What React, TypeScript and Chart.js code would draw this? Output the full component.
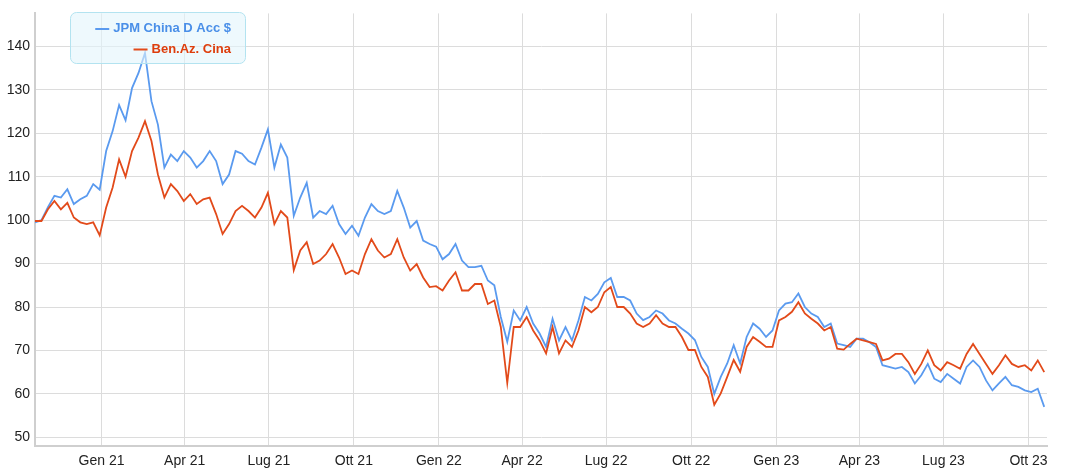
import React, { useEffect, useRef } from "react";
import { Chart, registerables } from "chart.js";

Chart.register(...registerables);

// ---- data ----
const startDate = Date.UTC(2020, 9, 21); // first weekly observation
const endDate = Date.UTC(2023, 9, 21);
const stepDays = 7;

const seriesLabels = ["JPM China D Acc $", "Ben.Az. Cina"];
const seriesColors = ["#5a9aef", "#e24a1a"];
const legendTextColors = ["#4a8fe8", "#de3d0c"];

const monthNames = ["Gen", "Feb", "Mar", "Apr", "Mag", "Giu", "Lug", "Ago", "Set", "Ott", "Nov", "Dic"];
const xTickMonths: [number, number][] = [
  [2021, 0], [2021, 3], [2021, 6], [2021, 9],
  [2022, 0], [2022, 3], [2022, 6], [2022, 9],
  [2023, 0], [2023, 3], [2023, 6], [2023, 9],
];
const yTicks = [50, 60, 70, 80, 90, 100, 110, 120, 130, 140];

const jpmValues = [
  99.5, 100, 103, 105.6, 105.2, 107.1, 103.7, 104.8, 105.6, 108.3, 107, 115.9, 120.5, 126.5, 123, 130.4,
  133.9, 138.5, 127.4, 122, 112.1, 115.1, 113.6, 115.9, 114.4, 112.1, 113.6, 115.9, 113.6, 108.3, 110.5, 115.9,
  115.3, 113.6, 112.8, 116.7, 120.9, 112.1, 117.4, 114.4, 101, 105.2, 108.6, 100.6, 102.1, 101.4, 103.3, 99.1,
  96.8, 98.7, 96.4, 100.6, 103.7, 102.1, 101.4, 102.1, 106.7, 102.9, 98.3, 99.8, 95.3, 94.5, 93.9, 91,
  92.2, 94.5, 90.7, 89.2, 89.2, 89.5, 86.1, 85, 77.7, 72, 79.2, 76.9, 80, 76.2, 73.9, 70.8,
  77.3, 72.3, 75.4, 72.3, 76.9, 82.3, 81.5, 83, 85.7, 86.7, 82.3, 82.3, 81.5, 78.5, 77,
  77.7, 79.2, 78.5, 76.9, 76.2, 75, 73.9, 72.4, 68.5, 66.2, 60, 63.9, 67, 71.2, 67, 73.1,
  76.2, 75, 73.1, 74.6, 79.2, 80.8, 81.1, 83.1, 80, 78.5, 77.7, 75.4, 76.2, 71.6, 71.2,
  70.8, 72.7, 72.7, 71.9, 70.8, 66.6, 66.2, 65.8, 66.2, 65, 62.4, 64.3, 66.9, 63.5, 62.7, 64.6,
  63.5, 62.4, 66.2, 67.7, 66.2, 63.1, 60.8, 62.4, 63.9, 62, 61.6, 60.8, 60.4, 61.2, 57,
];

const benValues = [
  99.8, 99.8, 102.5, 104.4, 102.5, 104, 100.6, 99.5, 99.1, 99.5, 96.5, 102.9, 107.5, 114, 110, 115.9,
  119, 122.8, 118.2, 110.5, 105.2, 108.3, 106.7, 104.4, 106, 103.7, 104.8, 105.2, 101.4, 96.8, 99.1, 102.1,
  103.3, 102.1, 100.6, 102.9, 106.3, 99.1, 102.1, 100.6, 88.5, 93, 94.9, 89.9, 90.7, 92.2, 94.5, 91.4,
  87.6, 88.4, 87.6, 92.2, 95.6, 93, 91.4, 92.2, 95.6, 91.4, 88.4, 89.9, 86.8, 84.6, 84.8, 83.8,
  86.1, 88, 83.8, 83.8, 85.3, 85.3, 80.7, 81.5, 75.4, 62.5, 75.4, 75.4, 77.7, 74.6, 72.3, 69.3,
  75.4, 69.3, 72.3, 70.8, 74.6, 80, 78.8, 80, 83.4, 84.6, 80, 80, 78.5, 76.2, 75.4,
  76.2, 78.1, 76.2, 75.4, 75.4, 73.1, 70.1, 70.1, 66.2, 63.9, 57.5, 60.1, 63.9, 67.8, 65.1, 70.8,
  73.1, 72, 70.8, 70.8, 76.9, 77.7, 78.9, 81.1, 78.5, 77.3, 76.2, 74.6, 75.4, 70.4, 70.2,
  71.5, 72.7, 72.3, 71.9, 71.5, 67.7, 68.1, 69.2, 69.2, 67.3, 64.6, 66.9, 70, 66.6, 65.4, 67.3,
  66.6, 65.8, 69.2, 71.5, 69.2, 66.9, 64.6, 66.6, 68.9, 66.9, 66.2, 66.6, 65.4, 67.7, 65,
];

const DAY_MS = 86400000;
const dates = jpmValues.map((_, i) => startDate + i * stepDays * DAY_MS);

const fontFamily = "'Liberation Sans', Arial, sans-serif";

const boxLegend = {
  id: "boxLegend",
  afterDatasetsDraw(chart: any) {
    const ctx = chart.ctx as CanvasRenderingContext2D;
    ctx.save();
    ctx.beginPath();
    (ctx as any).roundRect(70.5, 12.5, 175, 51, 6);
    ctx.fillStyle = "rgba(226,245,251,0.6)";
    ctx.fill();
    ctx.strokeStyle = "#b3e3f0";
    ctx.lineWidth = 1;
    ctx.stroke();
    ctx.font = `bold 13px ${fontFamily}`;
    ctx.textAlign = "right";
    ctx.textBaseline = "middle";
    seriesLabels.forEach((label, i) => {
      const ty = 28.5 + i * 20.5;
      const tx = 231;
      const tw = ctx.measureText(label).width;
      ctx.strokeStyle = seriesColors[i];
      ctx.lineWidth = 2;
      ctx.beginPath();
      ctx.moveTo(tx - tw - 18, ty + 0.5);
      ctx.lineTo(tx - tw - 4, ty + 0.5);
      ctx.stroke();
      ctx.fillStyle = legendTextColors[i];
      ctx.fillText(label, tx, ty);
    });
    ctx.restore();
  },
};

export default function App() {
  const canvasRef = useRef<HTMLCanvasElement | null>(null);

  useEffect(() => {
    document.body.style.margin = "0";
    document.body.style.overflow = "hidden";
    const canvas = canvasRef.current;
    if (!canvas) return;
    const xTickValues = xTickMonths.map(([y, m]) => Date.UTC(y, m, 1));
    const chart = new Chart(canvas, {
      type: "line",
      data: {
        datasets: [
          {
            label: seriesLabels[0],
            data: jpmValues.map((v, i) => ({ x: dates[i], y: v })),
            borderColor: seriesColors[0],
            backgroundColor: seriesColors[0],
            borderWidth: 1.8,
            pointRadius: 0,
            tension: 0,
            order: 1,
          },
          {
            label: seriesLabels[1],
            data: benValues.map((v, i) => ({ x: dates[i], y: v })),
            borderColor: seriesColors[1],
            backgroundColor: seriesColors[1],
            borderWidth: 1.8,
            pointRadius: 0,
            tension: 0,
            order: 0,
          },
        ],
      },
      options: {
        animation: false,
        responsive: false,
        devicePixelRatio: 1,
        layout: { padding: { top: 12, right: 20, left: 0, bottom: 0 } },
        plugins: {
          legend: { display: false },
          tooltip: { enabled: false },
        },
        scales: {
          x: {
            type: "linear",
            min: startDate,
            max: endDate,
            afterBuildTicks: (s: any) => {
              s.ticks = xTickValues.map((v) => ({ value: v }));
            },
            afterFit: (s: any) => {
              s.height = 24;
            },
            ticks: {
              autoSkip: false,
              maxRotation: 0,
              padding: 7,
              color: "#222",
              font: { family: fontFamily, size: 14 },
              callback: (v: any) => {
                const d = new Date(Number(v));
                return `${monthNames[d.getUTCMonth()]} ${String(d.getUTCFullYear()).slice(2)}`;
              },
            },
            grid: { color: "#dcdcdc", lineWidth: 1, drawTicks: false },
            border: { color: "#cfcfcf", width: 2 },
          },
          y: {
            min: 48,
            max: 147.6,
            afterBuildTicks: (s: any) => {
              s.ticks = yTicks.map((v) => ({ value: v }));
            },
            afterFit: (s: any) => {
              s.width = 35;
            },
            ticks: {
              padding: 5,
              color: "#222",
              font: { family: fontFamily, size: 14 },
            },
            grid: { color: "#dcdcdc", lineWidth: 1, drawTicks: false },
            border: { color: "#cfcfcf", width: 2 },
          },
        },
      },
      plugins: [boxLegend],
    });
    return () => chart.destroy();
  }, []);

  return (
    <div style={{ position: "absolute", left: 0, top: 0, width: 1067, height: 470 }}>
      <canvas ref={canvasRef} width={1067} height={470} />
    </div>
  );
}
